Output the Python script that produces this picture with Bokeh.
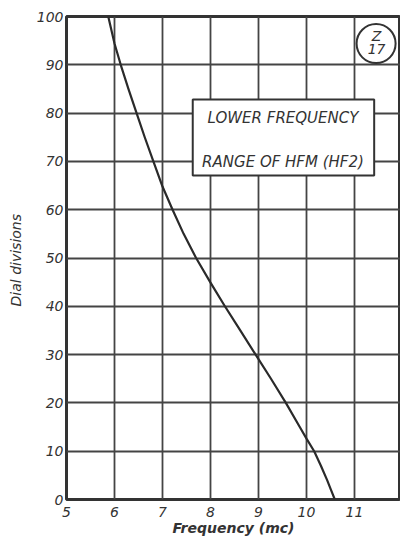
from bokeh.plotting import figure
from bokeh.models import BoxAnnotation, Label, FixedTicker, Range1d
from bokeh.embed import file_html
from bokeh.resources import INLINE

# Data
dial_divisions = [100, 94.4, 90, 85, 80, 75, 70, 64.8, 60, 55, 50, 44.9, 40, 35, 30, 25, 20, 15, 12.6, 10, 7, 4, 2, 0]
frequency_mc = [5.87, 6.0, 6.13, 6.29, 6.46, 6.63, 6.81, 7.0, 7.21, 7.44, 7.70, 8.0, 8.30, 8.62, 8.94, 9.26, 9.57, 9.86, 10.0, 10.16, 10.30, 10.43, 10.51, 10.59]
x_ticks = [5, 6, 7, 8, 9, 10, 11]
y_ticks = [0, 10, 20, 30, 40, 50, 60, 70, 80, 90, 100]
title_lines = ["LOWER FREQUENCY", "RANGE OF HFM (HF2)"]
badge_lines = ["Z", "17"]

INK = "#333333"
FONT = "DejaVu Sans"

p = figure(width=400, height=543, output_backend="svg", toolbar_location=None,
           x_range=Range1d(5, 5 + 334 / 48.0), y_range=Range1d(0, 100),
           min_border_left=66, min_border_right=0, min_border_top=16, min_border_bottom=44)

p.background_fill_color = "white"
p.border_fill_color = "white"
p.outline_line_color = INK
p.outline_line_width = 3

for ax in (p.xaxis[0], p.yaxis[0]):
    ax.axis_line_color = None
    ax.major_tick_line_color = None
    ax.minor_tick_line_color = None
    ax.major_tick_in = 0
    ax.major_tick_out = 0
    ax.minor_tick_in = 0
    ax.minor_tick_out = 0
    ax.major_label_text_font = FONT
    ax.major_label_text_font_style = "italic"
    ax.major_label_text_font_size = "14px"
    ax.major_label_text_color = INK
    ax.axis_label_text_font = FONT
    ax.axis_label_text_font_style = "italic"
    ax.axis_label_text_color = INK

p.xaxis.ticker = FixedTicker(ticks=x_ticks)
p.yaxis.ticker = FixedTicker(ticks=y_ticks)
p.xaxis.major_label_standoff = 7
p.yaxis.major_label_standoff = 3
p.xaxis.axis_label = "Frequency (mc)"
p.xaxis.axis_label_text_font_size = "14px"
p.xaxis.axis_label_text_font_style = "bold italic"
p.xaxis.axis_label_standoff = 0
p.yaxis.axis_label = "Dial  divisions"
p.yaxis.axis_label_text_font_size = "14px"
p.yaxis.axis_label_standoff = 10

p.xgrid.ticker = FixedTicker(ticks=x_ticks)
p.ygrid.ticker = FixedTicker(ticks=y_ticks)
p.grid.grid_line_color = "#444444"
p.grid.grid_line_width = 1.8
p.grid.grid_line_alpha = 1.0

p.line(frequency_mc, dial_divisions, line_color="#2a2a2a", line_width=2.2, line_join="round")

# Title box
box = BoxAnnotation(left=7.63, right=11.41, bottom=67.1, top=82.8,
                    fill_color="white", fill_alpha=1.0,
                    line_color=INK, line_width=2, line_alpha=1.0, level="annotation")
p.add_layout(box)
for txt, yy in zip(title_lines, [78.9, 69.8]):
    p.add_layout(Label(x=9.51, y=yy, text=txt, text_align="center", text_baseline="middle",
                       text_font=FONT, text_font_style="italic", text_font_size="15px",
                       text_color=INK))

# Badge circle
p.scatter([11.45], [94.4], marker="circle", size=39, fill_color="white",
          line_color=INK, line_width=2)
for txt, yy in zip(badge_lines, [96.0, 93.3]):
    p.add_layout(Label(x=11.46, y=yy, text=txt, text_align="center", text_baseline="middle",
                       text_font=FONT, text_font_style="italic", text_font_size="14px",
                       text_color=INK))

open("out.html", "w").write(file_html(p, INLINE))
